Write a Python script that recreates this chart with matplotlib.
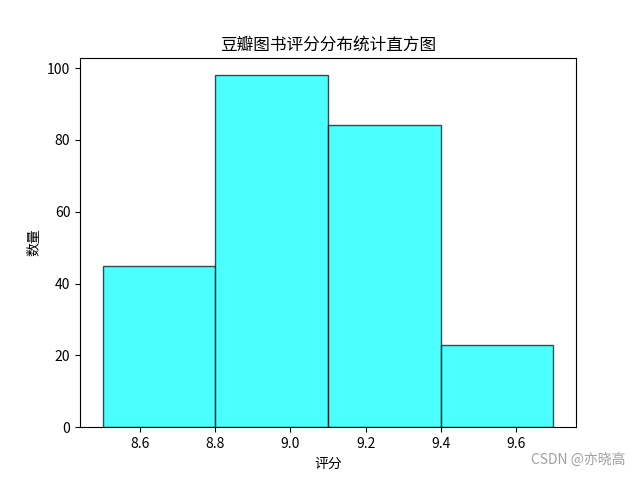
import matplotlib
matplotlib.use('Agg')
import matplotlib.pyplot as plt

plt.rcParams['font.family'] = ['Noto Sans CJK SC', 'DejaVu Sans']
plt.rcParams['axes.unicode_minus'] = False

# 分箱边界与各箱数量
bin_edges = [8.5, 8.8, 9.1, 9.4, 9.7]
counts = [45, 98, 84, 23]
bin_lefts = bin_edges[:-1]
bin_widths = [b - a for a, b in zip(bin_edges[:-1], bin_edges[1:])]

fig, ax = plt.subplots(figsize=(6.4, 4.8), dpi=100)
ax.hist(bin_lefts, bins=bin_edges, weights=counts,
        color='cyan', edgecolor='black', alpha=0.7)
ax.set_title('豆瓣图书评分分布统计直方图')
ax.set_xlabel('评分')
ax.set_ylabel('数量')
ax.set_xticks([8.6, 8.8, 9.0, 9.2, 9.4, 9.6])

fig.text(0.977, 0.027, 'CSDN @亦晓高', ha='right', va='bottom',
         color='#a0a0a0', fontsize=10)

plt.savefig('out.png', dpi=100)
